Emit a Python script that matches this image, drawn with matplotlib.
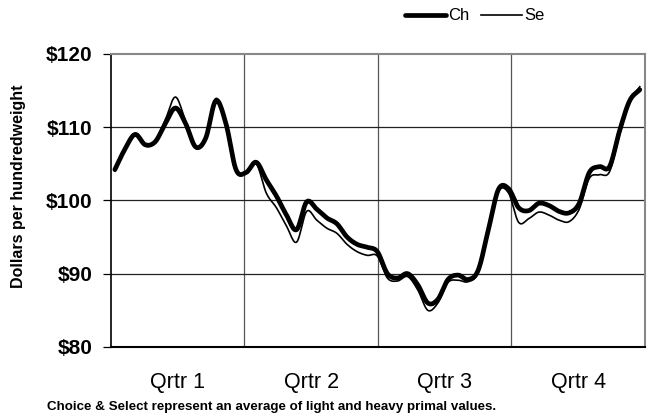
import numpy as np
import matplotlib
matplotlib.use("Agg")
import matplotlib.pyplot as plt

# weekly boxed beef cutout values, $/cwt
choice = [104.2, 107.0, 109.0, 107.6, 108.0, 110.5, 112.6, 110.5, 107.3, 108.5,
          113.6, 110.5, 104.2, 103.8, 105.2, 102.8, 100.6, 98.0, 96.0, 99.8,
          98.8, 97.6, 96.8, 95.0, 94.0, 93.6, 93.0, 90.0, 89.4, 90.0,
          88.5, 86.0, 86.5, 89.2, 89.8, 89.2, 90.5, 96.0, 101.5, 101.6,
          99.0, 98.6, 99.6, 99.3, 98.5, 98.3, 99.6, 103.8, 104.6, 104.6,
          109.5, 113.6, 115.1]
select = [104.0, 107.0, 109.1, 107.4, 108.0, 111.0, 114.1, 110.8, 107.1, 108.6,
          113.9, 110.3, 104.0, 103.7, 105.0, 101.0, 99.0, 96.5, 94.3, 98.5,
          97.3, 96.2, 95.5, 94.0, 93.0, 92.5, 92.4, 89.4, 89.0, 89.6,
          87.8, 85.0, 86.0, 88.8, 89.1, 88.9, 90.2, 95.8, 101.2, 101.0,
          97.0, 97.5, 98.4, 98.0, 97.3, 97.1, 98.8, 103.0, 103.5, 103.9,
          109.0, 113.5, 115.5]
quarters = ["Qrtr 1", "Qrtr 2", "Qrtr 3", "Qrtr 4"]
yticks = [80, 90, 100, 110, 120]
note = "Choice & Select represent an average of light and heavy primal values."


def smooth(x, y, n=12):
  # catmull-rom, roughly what Excel's smoothed line does
  x = np.asarray(x, float)
  y = np.asarray(y, float)
  px = np.concatenate([[2 * x[0] - x[1]], x, [2 * x[-1] - x[-2]]])
  py = np.concatenate([[2 * y[0] - y[1]], y, [2 * y[-1] - y[-2]]])
  t = np.linspace(0, 1, n, endpoint=False)[:, None]
  out_x, out_y = [], []
  for i in range(1, len(px) - 2):
    for p, out in ((px, out_x), (py, out_y)):
      p0, p1, p2, p3 = p[i - 1], p[i], p[i + 1], p[i + 2]
      v = 0.5 * (2 * p1 + (-p0 + p2) * t + (2 * p0 - 5 * p1 + 4 * p2 - p3) * t ** 2
                 + (-p0 + 3 * p1 - 3 * p2 + p3) * t ** 3)
      out.extend(v.ravel())
  out_x.append(x[-1])
  out_y.append(y[-1])
  return np.array(out_x), np.array(out_y)


plt.rcParams['font.family'] = ['Liberation Sans', 'DejaVu Sans']

fig = plt.figure(figsize=(6.52, 4.17), dpi=100)
ax = fig.add_axes([0.170, 0.168, 0.819, 0.703])

weeks = np.arange(len(choice))
xlo, xhi = -0.4, 52.5
ax.set_xlim(xlo, xhi)
ax.set_ylim(80, 120)

qw = (xhi - xlo) / 4
for k in range(1, 4):
  ax.axvline(xlo + k * qw, color='#555555', lw=0.9, zorder=1)
for v in yticks[1:-1]:
  ax.axhline(v, color='#222222', lw=0.9, zorder=1)

sx, sy = smooth(weeks, choice)
ax.plot(sx, sy, color='black', lw=3.4, label='Ch', zorder=3, solid_capstyle='round')
sx, sy = smooth(weeks, select)
ax.plot(sx, sy, color='black', lw=1.2, label='Se', zorder=4)

ax.set_yticks(yticks)
ax.set_yticklabels(['$%d' % v for v in yticks], fontsize=15, fontweight='bold')
ax.tick_params(axis='y', length=6, width=0.9, direction='out', pad=7)
ax.set_xticks([xlo + (k + 0.5) * qw for k in range(4)])
ax.set_xticklabels(quarters, fontsize=15.5)
ax.tick_params(axis='x', length=0, pad=18)

for s in ('top', 'right'):
  ax.spines[s].set_color('#888888')
  ax.spines[s].set_linewidth(1.5)
ax.spines['left'].set_color('black')
ax.spines['left'].set_linewidth(1.2)
ax.spines['bottom'].set_color('black')
ax.spines['bottom'].set_linewidth(1.5)

fig.text(0.028, 0.554, "Dollars per hundredweight", rotation=90, fontsize=11.5,
         fontweight='bold', ha='center', va='center')
fig.text(0.072, 0.025, note, fontsize=9.6, fontweight='bold', ha='left', va='center')

fig.legend(loc='center left', bbox_to_anchor=(0.598, 0.962), ncol=2, frameon=False,
           handlelength=2.45, handletextpad=0.15, columnspacing=0.7,
           prop={'size': 12})

fig.savefig("out.png", dpi=100)
